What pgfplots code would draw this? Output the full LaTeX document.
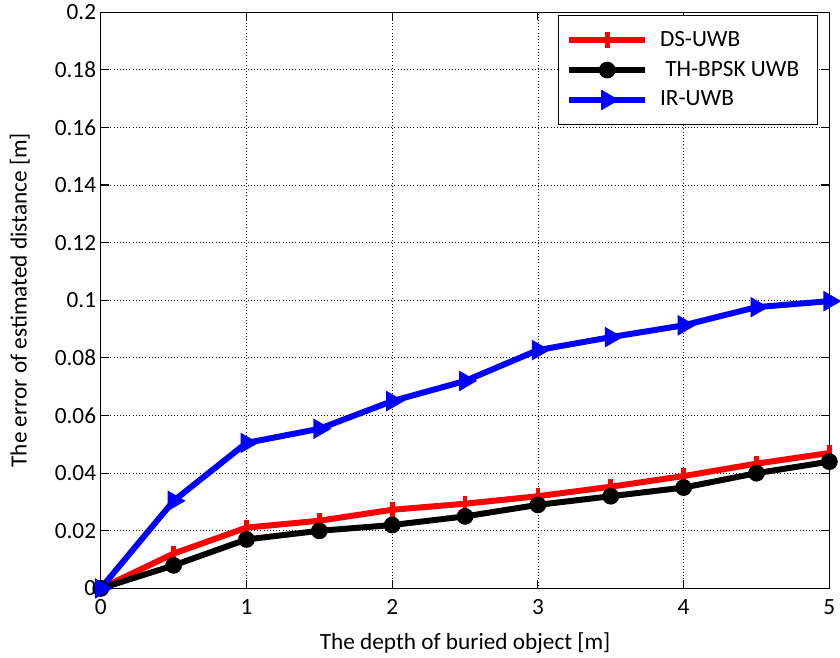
\documentclass[border={4pt 0pt 0pt 0pt}]{standalone}
\usepackage{fontspec}
\setmainfont{Carlito}
\usepackage{pgfplots}
\pgfplotsset{compat=1.18}
\begin{document}
\begin{tikzpicture}
\begin{axis}[
  scale only axis,
  width=548pt, height=433.5pt,
  xmin=0, xmax=5, ymin=0, ymax=0.2,
  xtick={0,1,2,3,4,5},
  ytick={0,0.02,0.04,0.06,0.08,0.1,0.12,0.14,0.16,0.18,0.2},
  yticklabels={0,0.02,0.04,0.06,0.08,0.1,0.12,0.14,0.16,0.18,0.2},
  /pgf/number format/assume math mode=true,
  tick label style={font=\fontsize{17.5}{20}\selectfont},
  xticklabel style={yshift=-5pt},
  label style={font=\fontsize{17.5}{20}\selectfont},
  xlabel={The depth of buried object [m]},
  ylabel={The error of estimated distance [m]},
  xlabel style={at={(axis description cs:0.5,0)}, anchor=center, yshift=-41pt},
  ylabel shift=12pt,
  grid=major,
  major grid style={black, dotted, line width=0.6pt},
  axis line style={black, line width=0.8pt},
  tick style={black, line width=0.8pt},
  tick align=inside,
  major tick length=6pt,
  clip=false,
  legend style={at={(0.985,0.995)}, anchor=north east, draw=black, line width=0.9pt,
    font=\fontsize{17.5}{20}\selectfont, row sep=3.5pt, inner xsep=6pt, inner ysep=9pt,
    nodes={text height=12pt, text depth=3pt, inner sep=2pt},
    /tikz/every odd column/.append style={column sep=7pt}},
  legend cell align=left,
  legend image code/.code={
    \draw[#1] (0cm,0cm) -- (2.0cm,0cm);
    \draw[#1, only marks] plot coordinates {(1.0cm,0cm)};
  },
]
\addplot[red, line width=4.5pt, mark=|, mark size=6pt, mark options={line width=3.5pt}]
coordinates {(0,0) (0.5,0.0121) (1,0.0211) (1.5,0.0235) (2,0.0273) (2.5,0.0294) (3,0.032) (3.5,0.0353) (4,0.039) (4.5,0.0433) (5,0.047)};
\addlegendentry{DS-UWB}
\addplot[black, line width=4.5pt, mark=*, mark size=5.8pt, mark options={line width=1pt}]
coordinates {(0,0) (0.5,0.008) (1,0.017) (1.5,0.020) (2,0.022) (2.5,0.025) (3,0.029) (3.5,0.032) (4,0.035) (4.5,0.040) (5,0.044)};
\addlegendentry{\ TH-BPSK UWB\hspace*{6pt}}
\addplot[blue, line width=4.5pt, mark=triangle*, mark size=8pt, mark options={rotate=-90, line width=1pt}]
coordinates {(0,0) (0.5,0.0304) (1,0.0505) (1.5,0.0554) (2,0.065) (2.5,0.072) (3,0.0827) (3.5,0.0872) (4,0.0913) (4.5,0.0976) (5,0.0997)};
\addlegendentry{IR-UWB}
\end{axis}
\end{tikzpicture}
\end{document}
